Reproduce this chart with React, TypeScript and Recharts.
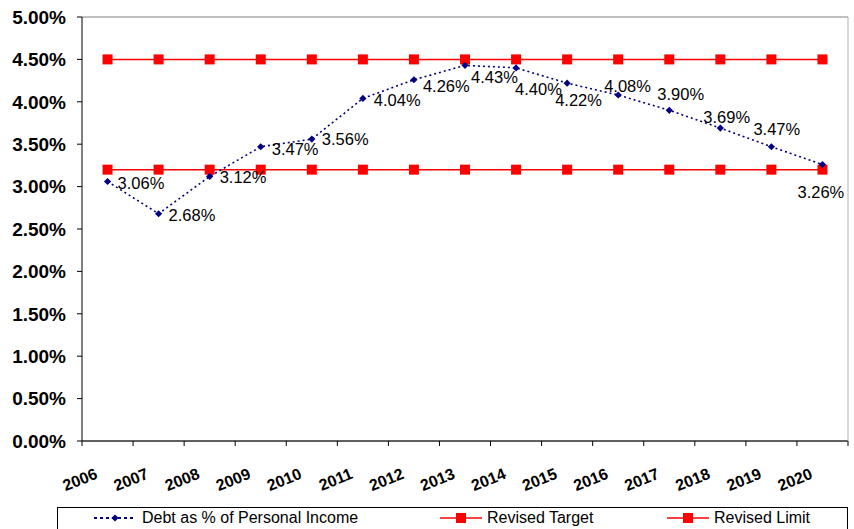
import React from "react";
import { LineChart, Line, XAxis, YAxis, CartesianGrid } from "recharts";

const years = ["2006", "2007", "2008", "2009", "2010", "2011", "2012", "2013", "2014", "2015", "2016", "2017", "2018", "2019", "2020"];
const debtPct = [3.06, 2.68, 3.12, 3.47, 3.56, 4.04, 4.26, 4.43, 4.4, 4.22, 4.08, 3.9, 3.69, 3.47, 3.26];
const revisedTarget = [3.2, 3.2, 3.2, 3.2, 3.2, 3.2, 3.2, 3.2, 3.2, 3.2, 3.2, 3.2, 3.2, 3.2, 3.2];
const revisedLimit = [4.5, 4.5, 4.5, 4.5, 4.5, 4.5, 4.5, 4.5, 4.5, 4.5, 4.5, 4.5, 4.5, 4.5, 4.5];
const yTicks = [0, 0.5, 1, 1.5, 2, 2.5, 3, 3.5, 4, 4.5, 5];
const seriesNames = ["Debt as % of Personal Income", "Revised Target", "Revised Limit"];

// where each data label sits relative to its point (Excel placed them by hand)
const labelOffsets = [
  [10, 1], [10, 1], [10, 1], [11, 2], [10, 0], [11, 2], [9, 6], [6, 12],
  [-1, 21], [-12, 17], [-14, -9], [-12, -16], [-17, -11], [-18, -18], [-25, 27],
];

const data = years.map((y, i) => ({
  year: y,
  debt: debtPct[i],
  target: revisedTarget[i],
  limit: revisedLimit[i],
}));

const FONT = "'Liberation Sans', Arial, sans-serif";
const W = 854;
const H = 529;
const M = { top: 17, right: 5, bottom: 28, left: 0 };
const Y_W = 82;
const plotW = W - M.left - M.right - Y_W - 1;
const band = plotW / years.length;

const Diamond = (props: any) => {
  const { cx, cy, index } = props;
  if (cx == null || cy == null) return <g key={index} />;
  const r = 3.6;
  return (
    <path
      key={"d" + index}
      d={`M${cx},${cy - r}L${cx + r},${cy}L${cx},${cy + r}L${cx - r},${cy}Z`}
      fill="#000080"
    />
  );
};

const Square = (props: any) => {
  const { cx, cy, index } = props;
  if (cx == null || cy == null) return <g key={index} />;
  return <rect key={"s" + index} x={cx - 5} y={cy - 5} width={10} height={10} fill="#ff0000" />;
};

const DebtLabel = (props: any) => {
  const { x, y, index, value } = props;
  const [dx, dy] = labelOffsets[index] || [10, 0];
  return (
    <text
      x={x + dx}
      y={y + dy}
      dominantBaseline="central"
      fontFamily={FONT}
      fontSize={16.5}
      fill="#000"
    >
      {Number(value).toFixed(2)}%
    </text>
  );
};

const YearTick = (props: any) => {
  const { x, y, payload, index } = props;
  const left = x - band / 2;
  const tx = x - 9;
  const ty = y + 37;
  return (
    <g>
      <line x1={left} y1={y} x2={left} y2={y + 5} stroke="#000" />
      {index === years.length - 1 && (
        <line x1={x + band / 2} y1={y} x2={x + band / 2} y2={y + 5} stroke="#000" />
      )}
      <text
        x={tx}
        y={ty}
        textAnchor="end"
        transform={`rotate(-22 ${tx} ${ty})`}
        fontFamily={FONT}
        fontWeight="bold"
        fontSize={16}
        fill="#000"
      >
        {payload.value}
      </text>
    </g>
  );
};

function LegendSwatch({ kind }: { kind: number }) {
  if (kind === 0) {
    return (
      <svg width={42} height={12} style={{ marginRight: 6 }}>
        <line x1={0} y1={6} x2={42} y2={6} stroke="#000080" strokeWidth={2} strokeDasharray="3 3" />
        <path d="M21,2.4L24.6,6L21,9.6L17.4,6Z" fill="#000080" />
      </svg>
    );
  }
  return (
    <svg width={42} height={12} style={{ marginRight: 5 }}>
      <line x1={0} y1={6} x2={42} y2={6} stroke="#ff0000" strokeWidth={1.5} />
      <rect x={16} y={1} width={10} height={10} fill="#ff0000" />
    </svg>
  );
}

export default function App() {
  const itemLeft = [36, 382, 609];
  return (
    <div style={{ position: "absolute", left: 0, top: 0, width: W, height: H, background: "#fff", overflow: "hidden" }}>
      <LineChart width={W} height={H} data={data} margin={M}>
        <CartesianGrid vertical={false} stroke="#808080" />
        <XAxis
          dataKey="year"
          tickLine={false}
          tickSize={0}
          tickMargin={0}
          padding={{ left: band / 2, right: band / 2 }}
          axisLine={{ stroke: "#000" }}
          height={60}
          interval={0}
          tick={<YearTick />}
        />
        <YAxis
          yAxisId="l"
          domain={[0, 5]}
          ticks={yTicks}
          width={Y_W}
          tickSize={5}
          tickMargin={11}
          axisLine={{ stroke: "#000" }}
          tickLine={{ stroke: "#000" }}
          tickFormatter={(v: number) => `${v.toFixed(2)}%`}
          tick={{ fontFamily: FONT, fontWeight: "bold", fontSize: 19, fill: "#000" }}
        />
        <YAxis
          yAxisId="r"
          orientation="right"
          domain={[0, 5]}
          width={1}
          tick={false}
          tickLine={false}
          axisLine={{ stroke: "#b0b0b0" }}
        />
        <Line
          yAxisId="l"
          dataKey="target"
          name={seriesNames[1]}
          stroke="#ff0000"
          strokeWidth={1.5}
          dot={Square}
          activeDot={false}
          isAnimationActive={false}
        />
        <Line
          yAxisId="l"
          dataKey="limit"
          name={seriesNames[2]}
          stroke="#ff0000"
          strokeWidth={1.5}
          dot={Square}
          activeDot={false}
          isAnimationActive={false}
        />
        <Line
          yAxisId="l"
          type="linear"
          dataKey="debt"
          name={seriesNames[0]}
          stroke="#000080"
          strokeWidth={1.6}
          strokeDasharray="2 3"
          dot={Diamond}
          activeDot={false}
          label={DebtLabel}
          isAnimationActive={false}
        />
      </LineChart>
      <div
        style={{
          position: "absolute",
          left: 57,
          top: 507,
          width: 791,
          height: 26,
          border: "1px solid #000",
          boxSizing: "border-box",
          fontFamily: FONT,
          fontSize: 16,
          color: "#000",
        }}
      >
        {seriesNames.map((n, i) => (
          <div
            key={n}
            style={{ position: "absolute", left: itemLeft[i], top: 1, display: "flex", alignItems: "center", whiteSpace: "nowrap" }}
          >
            <LegendSwatch kind={i} />
            <span>{n}</span>
          </div>
        ))}
      </div>
    </div>
  );
}
